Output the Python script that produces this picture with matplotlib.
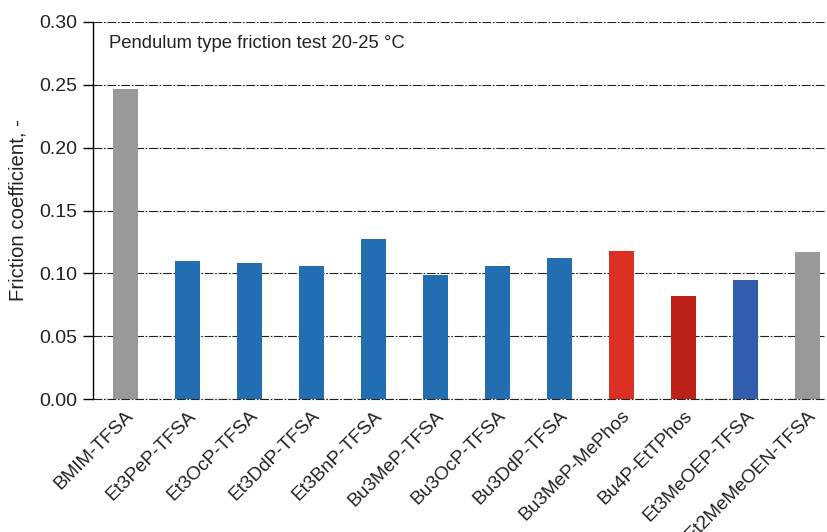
import matplotlib
matplotlib.use("Agg")
import matplotlib.pyplot as plt

categories = ["BMIM-TFSA", "Et3PeP-TFSA", "Et3OcP-TFSA", "Et3DdP-TFSA", "Et3BnP-TFSA",
              "Bu3MeP-TFSA", "Bu3OcP-TFSA", "Bu3DdP-TFSA", "Bu3MeP-MePhos",
              "Bu4P-EtTPhos", "Et3MeOEP-TFSA", "Et2MeMeOEN-TFSA"]
values = [0.247, 0.110, 0.108, 0.106, 0.127, 0.099, 0.106, 0.112, 0.118, 0.082, 0.095, 0.117]
colors = ["#999999", "#236db1", "#236db1", "#236db1", "#236db1", "#236db1", "#236db1",
          "#236db1", "#dc3024", "#bd2219", "#325dab", "#999999"]
yticks = [0.00, 0.05, 0.10, 0.15, 0.20, 0.25, 0.30]

plt.rcParams['font.family'] = ['Liberation Sans', 'DejaVu Sans']

fig = plt.figure(figsize=(8.27, 5.32), dpi=100)
ax = fig.add_axes([93/827, 1 - 399/532, (826 - 93)/827, (399 - 22)/532])

x = list(range(len(categories)))
ax.bar(x, values, width=0.4, color=colors, zorder=3)

ax.set_ylim(0, 0.30)
ax.set_xlim(-0.52, 11.3)
ax.set_yticks(yticks)
ax.set_yticklabels([f"{v:.2f}" for v in yticks], fontsize=14, color="#222222")
gstyle = dict(linestyle=(0, (8, 1.5, 1.5, 1.5)), color="#222222", linewidth=0.8)
ax.yaxis.grid(True, zorder=1, **gstyle)
ax.set_axisbelow(True)
ax.axhline(0, clip_on=False, zorder=4, **gstyle)

for s in ["top", "right", "bottom"]:
    ax.spines[s].set_visible(False)
ax.spines["left"].set_linewidth(1.0)
ax.tick_params(axis="y", direction="out", length=7, width=1.0, pad=4)
ax.tick_params(axis="x", length=0, pad=6)

ax.set_xticks(x)
ax.set_xticklabels(categories, rotation=45, ha="right", rotation_mode="anchor",
                   fontsize=13.7, color="#222222")

ax.set_ylabel("Friction coefficient, -", fontsize=14.7, color="#222222", labelpad=9)

ax.text(109/827, 1 - 44/532, "Pendulum type friction test 20-25 °C", transform=fig.transFigure,
        fontsize=13.3, color="#222222", ha="left", va="center")

fig.savefig("out.png", dpi=100)
